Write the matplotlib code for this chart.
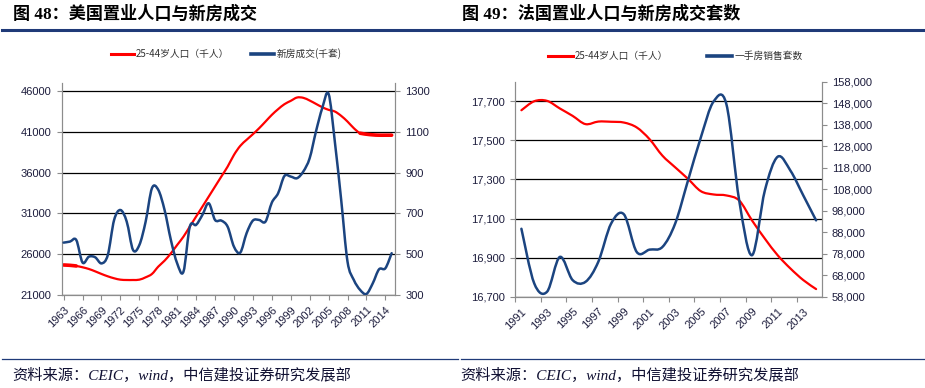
import numpy as np
import matplotlib
matplotlib.use('Agg')
from matplotlib import pyplot as plt
from matplotlib.path import Path
from matplotlib.patches import PathPatch
from matplotlib.lines import Line2D
from matplotlib.ticker import FuncFormatter

plt.rcParams['font.family'] = ['Liberation Sans', 'Noto Sans CJK SC']

# US: 25-44 population (thousand) and new home sales (thousand units)
us_years = list(range(1963, 2016))
us_pop = [24680, 24640, 24560, 24400, 24190, 23900, 23580, 23290, 23050, 22880,
          22840, 22840, 22880, 23170, 23580, 24480, 25210, 26110, 27140, 28160,
          29390, 30620, 31840, 33070, 34300, 35530, 36750, 38180, 39290, 40030,
          40720, 41460, 42270, 43090, 43790, 44400, 44810, 45220, 45180, 44850,
          44440, 44030, 43710, 43500, 42970, 42270, 41460, 40840, 40720, 40640,
          40600, 40600, 40600]
us_sales = [557, 562, 570, 459, 488, 485, 455, 496, 668, 717,
            660, 521, 545, 660, 824, 816, 717, 570, 455, 415,
            635, 644, 693, 750, 668, 665, 635, 537, 508, 603,
            665, 668, 660, 753, 799, 884, 881, 873, 906, 971,
            1102, 1217, 1287, 1050, 766, 464, 374, 325, 305, 357,
            426, 431, 505]
us_xlabels = list(range(1963, 2015, 3))

# France: 25-44 population (thousand) and new home sales (units)
fr_years = list(range(1991, 2015))
fr_pop = [17654, 17700, 17702, 17663, 17625, 17583, 17596, 17595, 17591, 17566,
          17506, 17422, 17362, 17303, 17240, 17223, 17218, 17192, 17090, 16997,
          16912, 16844, 16785, 16739]
fr_sales = [89600, 64200, 60300, 76500, 65700, 64900, 74200, 92000, 96300, 78800,
            79900, 81100, 92000, 112000, 132000, 148800, 147500, 102700, 77300, 107400,
            123100, 116600, 105100, 93500]
fr_xlabels = list(range(1991, 2014, 2))

RED = '#ff0000'
BLUE = '#1b4480'
NAVY = '#1f3a78'
GREY = '#8c8c8c'
TXT = '#1c1c3c'


def smooth_path(x, y):
    # Excel style smoothed line: cubic bezier through the data points
    x = np.asarray(x, float)
    y = np.asarray(y, float)
    px = np.concatenate([[x[0]], x, [x[-1]]])
    py = np.concatenate([[y[0]], y, [y[-1]]])
    verts = [(x[0], y[0])]
    codes = [Path.MOVETO]
    for i in range(len(x) - 1):
        c1 = (x[i] + (px[i + 2] - px[i]) / 6, y[i] + (py[i + 2] - py[i]) / 6)
        c2 = (x[i + 1] - (px[i + 3] - px[i + 1]) / 6, y[i + 1] - (py[i + 3] - py[i + 1]) / 6)
        verts += [c1, c2, (x[i + 1], y[i + 1])]
        codes += [Path.CURVE4] * 3
    return Path(verts, codes)


def draw_line(ax, x, y, color, lw):
    ax.add_patch(PathPatch(smooth_path(x, y), fill=False, edgecolor=color, lw=lw,
                           capstyle='round', joinstyle='round', zorder=3))


def style_axes(ax, ax2):
    for a in (ax, ax2):
        a.spines['top'].set_visible(False)
        for s in ('left', 'right', 'bottom'):
            a.spines[s].set_color(GREY)
            a.spines[s].set_linewidth(0.8)
        a.tick_params(colors=GREY, labelcolor=TXT, labelsize=8, length=3.5, width=0.8)
    ax.yaxis.grid(True, color='black', lw=0.9)
    ax.set_axisbelow(True)


fig = plt.figure(figsize=(9.25, 3.88), dpi=100)

# ---------- Figure 48: US ----------
ax = fig.add_axes([62 / 925, 1 - 295 / 388, 333 / 925, 212 / 388])
ax2 = ax.twinx()
ax.set_xlim(1962.74, 2015.53)
ax.set_ylim(21000, 47000)
ax2.set_ylim(300, 1340)
ax.set_yticks(np.arange(21000, 46001, 5000))
ax2.set_yticks(np.arange(300, 1301, 200))
ax.set_xticks(us_xlabels)
ax.set_xticklabels([str(v) for v in us_xlabels], rotation=45, ha='right', va='top',
                   rotation_mode='anchor')
style_axes(ax, ax2)
ax.tick_params(axis='y', pad=4)
ax2.tick_params(axis='y', pad=4)
draw_line(ax, us_years, us_pop, RED, 1.6)
draw_line(ax, us_years[:3], us_pop[:3], RED, 2.6)
draw_line(ax, us_years[47:], us_pop[47:], RED, 2.6)
draw_line(ax2, us_years, us_sales, BLUE, 1.8)
h1 = [Line2D([], [], color=RED, lw=2.2), Line2D([], [], color=BLUE, lw=2.6)]
fig.legend(h1, ['25-44岁人口（千人）', '新房成交(千套)'], loc='center',
           bbox_to_anchor=(226 / 925, 1 - 54 / 388), ncol=2, frameon=False,
           prop={'family': ['Noto Sans CJK SC'], 'size': 7}, handlelength=2.4,
           handletextpad=0.2, columnspacing=2.2, labelcolor='#333333')

# ---------- Figure 49: France ----------
bx = fig.add_axes([515 / 925, 1 - 296.7 / 388, 307 / 925, 215 / 388])
bx2 = bx.twinx()
bx.set_xlim(1990.5, 2014.46)
bx.set_ylim(16700, 17800)
bx2.set_ylim(58000, 158000)
bx.set_yticks(np.arange(16700, 17701, 200))
bx2.set_yticks(np.arange(58000, 158001, 10000))
comma = FuncFormatter(lambda v, p: f'{v:,.0f}')
bx.yaxis.set_major_formatter(comma)
bx2.yaxis.set_major_formatter(comma)
bx.set_xticks(fr_xlabels)
bx.set_xticklabels([str(v) for v in fr_xlabels], rotation=45, ha='right', va='top',
                   rotation_mode='anchor')
bx.set_xticks(np.arange(1990.5, 2013, 2), minor=True)
style_axes(bx, bx2)
bx.tick_params(axis='x', which='major', length=0, pad=7)
bx.tick_params(axis='x', which='minor', length=3.5, width=0.8, color=GREY)
draw_line(bx, fr_years, fr_pop, RED, 1.6)
draw_line(bx2, fr_years, fr_sales, BLUE, 1.8)
h2 = [Line2D([], [], color=RED, lw=2.2), Line2D([], [], color=BLUE, lw=2.6)]
fig.legend(h2, ['25-44岁人口（千人）', '一手房销售套数'], loc='center',
           bbox_to_anchor=(675 / 925, 1 - 56 / 388), ncol=2, frameon=False,
           prop={'family': ['Noto Sans CJK SC'], 'size': 7}, handlelength=2.6,
           handletextpad=0.2, columnspacing=4.0, labelcolor='#333333')

# ---------- titles, rules, sources ----------
title_font = ['Liberation Serif', 'Noto Sans CJK SC']
fig.text(13 / 925, 1 - 14 / 388, '图 48：美国置业人口与新房成交', fontsize=12.3,
         fontweight='bold', va='center', family=title_font, color='black')
fig.text(462 / 925, 1 - 14 / 388, '图 49：法国置业人口与新房成交套数', fontsize=12.3,
         fontweight='bold', va='center', family=title_font, color='black')
for x0, x1 in ((2, 458), (461, 924)):
    fig.add_artist(Line2D([x0 / 925, x1 / 925], [1 - 30 / 388] * 2, color=NAVY, lw=2.2))
    fig.add_artist(Line2D([x0 / 925, x1 / 925], [1 - 359 / 388] * 2, color=NAVY, lw=0.9))
src = '资料来源：CEIC，wind，中信建投证券研究发展部'
fig.text(12 / 925, 1 - 375 / 388, src, fontsize=11, style='italic', va='center',
         family=title_font, color='#111133')
fig.text(460 / 925, 1 - 375 / 388, src, fontsize=11, style='italic', va='center',
         family=title_font, color='#111133')

fig.savefig('out.png', dpi=100)
